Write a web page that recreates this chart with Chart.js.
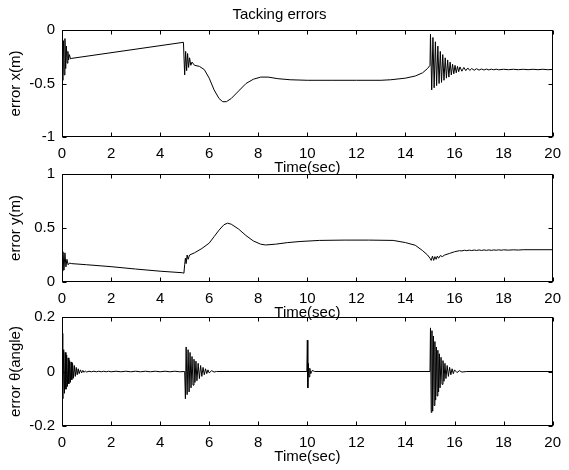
<!DOCTYPE html>
<html>
<head>
<meta charset="utf-8">
<script src="https://cdn.jsdelivr.net/npm/chart.js@4.4.1/dist/chart.umd.min.js"></script>
<style>
  html, body { margin: 0; padding: 0; background: #fff; }
  #wrap { position: relative; width: 569px; height: 470px; overflow: hidden; }
  canvas { position: absolute; left: 0; }
</style>
</head>
<body>
<div id="wrap">
  <canvas id="plotX" width="569" height="177" style="top:0px"></canvas>
  <canvas id="plotY" width="569" height="178" style="top:144px"></canvas>
  <canvas id="plotTh" width="569" height="179" style="top:287px"></canvas>
</div>
<script>
// [time (sec), error]
const errorX = [
  [0, -0.3], [0.03, -0.47], [0.06, -0.1], [0.09, -0.42], [0.12, -0.08], [0.15, -0.36], [0.18, -0.15],
  [0.21, -0.31], [0.24, -0.2], [0.27, -0.28], [0.3, -0.23], [0.35, -0.27], [0.4, -0.265],
  [4.95, -0.115], [5.0, -0.42], [5.04, -0.2], [5.08, -0.38], [5.12, -0.22], [5.16, -0.35], [5.2, -0.26],
  [5.25, -0.33], [5.3, -0.3], [5.4, -0.33], [5.6, -0.34], [5.8, -0.37], [6.0, -0.45], [6.2, -0.56],
  [6.4, -0.64], [6.55, -0.67], [6.7, -0.67], [6.9, -0.64], [7.2, -0.57], [7.5, -0.5], [7.8, -0.46],
  [8.1, -0.44], [8.4, -0.44], [8.8, -0.455], [9.3, -0.465], [10, -0.47], [11, -0.47], [12, -0.47],
  [13, -0.47], [13.4, -0.465], [14.0, -0.45], [14.4, -0.43], [14.7, -0.4], [14.9, -0.36], [15.0, -0.33],
  [15.02, -0.04], [15.07, -0.56], [15.12, -0.07], [15.17, -0.54], [15.22, -0.11], [15.27, -0.52],
  [15.32, -0.15], [15.37, -0.5], [15.42, -0.2], [15.47, -0.49], [15.52, -0.23], [15.57, -0.47],
  [15.62, -0.26], [15.67, -0.45], [15.72, -0.28], [15.77, -0.44], [15.82, -0.3], [15.87, -0.42],
  [15.92, -0.32], [15.97, -0.41], [16.02, -0.33], [16.07, -0.4], [16.12, -0.34], [16.17, -0.39],
  [16.22, -0.345], [16.3, -0.385], [16.38, -0.35], [16.46, -0.38], [16.54, -0.355], [16.62, -0.378],
  [16.7, -0.36], [16.8, -0.376], [16.9, -0.362], [17.0, -0.375], [17.1, -0.364], [17.2, -0.374],
  [17.3, -0.365], [17.4, -0.373], [17.5, -0.366], [17.6, -0.372], [17.7, -0.366], [17.8, -0.372],
  [18.0, -0.367], [18.2, -0.371], [18.4, -0.367], [18.6, -0.371], [18.8, -0.367], [19.0, -0.371],
  [19.2, -0.367], [19.4, -0.371], [19.6, -0.367], [19.8, -0.371], [20, -0.369]
];

const errorY = [
  [0, 0.1], [0.04, 0.28], [0.08, 0.11], [0.12, 0.27], [0.16, 0.14], [0.2, 0.21], [0.25, 0.16],
  [0.3, 0.175], [0.4, 0.17], [1, 0.16], [2, 0.142], [3, 0.12], [4, 0.1], [4.9, 0.086], [4.97, 0.082],
  [5.0, 0.16], [5.03, 0.22], [5.06, 0.17], [5.1, 0.25], [5.14, 0.21], [5.2, 0.25], [5.4, 0.27],
  [5.7, 0.31], [6.0, 0.36], [6.2, 0.42], [6.4, 0.48], [6.6, 0.53], [6.75, 0.545], [6.9, 0.535],
  [7.2, 0.49], [7.5, 0.43], [7.8, 0.38], [8.1, 0.35], [8.3, 0.343], [8.7, 0.35], [9.2, 0.365],
  [9.7, 0.375], [10.5, 0.385], [11.5, 0.388], [12.5, 0.388], [13.5, 0.385], [14.0, 0.365],
  [14.4, 0.34], [14.7, 0.29], [14.9, 0.25], [15.0, 0.22], [15.05, 0.2], [15.1, 0.24], [15.15, 0.2],
  [15.2, 0.235], [15.25, 0.21], [15.3, 0.24], [15.35, 0.22], [15.42, 0.245], [15.5, 0.235],
  [15.6, 0.25], [15.8, 0.265], [16.0, 0.28], [16.2, 0.29], [16.3, 0.288], [16.4, 0.294],
  [16.5, 0.29], [16.6, 0.295], [16.7, 0.291], [16.8, 0.296], [16.9, 0.292], [17.0, 0.297],
  [17.1, 0.292], [17.2, 0.297], [17.3, 0.293], [17.4, 0.297], [17.5, 0.293], [17.6, 0.297],
  [17.7, 0.294], [17.8, 0.298], [17.9, 0.294], [18.0, 0.298], [18.2, 0.295], [18.4, 0.298],
  [18.6, 0.296], [18.8, 0.299], [19.2, 0.299], [20, 0.299]
];

const errorTheta = [
  [0, 0], [0.02, 0.14], [0.04, -0.1], [0.07, 0.08], [0.1, -0.08], [0.13, 0.07], [0.16, -0.065],
  [0.19, 0.06], [0.22, -0.055], [0.25, 0.05], [0.28, -0.045], [0.31, 0.04], [0.34, -0.04],
  [0.37, 0.035], [0.4, -0.03], [0.43, 0.03], [0.46, -0.025], [0.5, 0.022], [0.54, -0.018],
  [0.58, 0.015], [0.62, -0.012], [0.66, 0.01], [0.7, -0.008], [0.75, 0.006], [0.8, -0.005],
  [0.85, 0.004], [0.9, -0.003], [0.95, 0.002], [1.0, -0.002], [1.1, 0.001], [1.2, -0.001],
  [1.3, 0.001], [1.4, -0.001], [1.5, 0.001], [1.6, -0.001], [1.7, 0.001], [1.8, -0.001],
  [1.9, 0.001], [2.0, -0.001], [2.2, 0.001], [2.4, -0.001], [2.6, 0.001], [2.8, -0.001],
  [3.0, 0.001], [3.2, -0.001], [3.4, 0.001], [3.6, -0.001], [3.8, 0.001], [4.0, -0.001],
  [4.2, 0.001], [4.4, -0.001], [4.6, 0.001], [4.8, -0.001], [5.0, 0],
  [5.03, -0.1], [5.06, 0.09], [5.1, -0.085], [5.14, 0.08], [5.18, -0.075], [5.22, 0.07],
  [5.26, -0.06], [5.3, 0.055], [5.34, -0.05], [5.38, 0.045], [5.42, -0.04], [5.46, 0.038],
  [5.5, -0.034], [5.55, 0.03], [5.6, -0.026], [5.65, 0.022], [5.7, -0.018], [5.75, 0.015],
  [5.8, -0.012], [5.85, 0.01], [5.9, -0.008], [5.95, 0.006], [6.0, -0.005], [6.1, 0.003],
  [6.2, -0.002], [6.3, 0], [9.98, 0], [10.0, 0.115], [10.02, -0.06], [10.04, 0.03], [10.07, -0.02],
  [10.1, 0.012], [10.14, -0.008], [10.2, 0.004], [10.3, 0], [15.0, 0],
  [15.02, 0.16], [15.05, -0.15], [15.08, 0.15], [15.11, -0.145], [15.14, 0.13], [15.17, -0.125],
  [15.2, 0.11], [15.23, -0.105], [15.26, 0.09], [15.29, -0.09], [15.32, 0.078], [15.35, -0.075],
  [15.38, 0.065], [15.41, -0.06], [15.45, 0.052], [15.49, -0.047], [15.53, 0.04], [15.57, -0.036],
  [15.61, 0.03], [15.65, -0.026], [15.7, 0.022], [15.75, -0.018], [15.8, 0.015], [15.85, -0.012],
  [15.9, 0.01], [15.95, -0.008], [16.0, 0.006], [16.1, -0.004], [16.2, 0.003], [16.3, -0.002],
  [16.5, 0], [20, 0]
];

const timeRange = [0, 20];
const timeStep = 2;

Chart.defaults.font.family = '"Liberation Sans", Arial, sans-serif';
Chart.defaults.font.size = 15;
Chart.defaults.color = '#000';

// matlab style box with inward ticks on all four sides
const boxPlugin = {
  id: 'box',
  afterDraw(chart) {
    const { ctx, chartArea: a, scales: { x, y } } = chart;
    const L = Math.round(a.left) + 0.5, R = Math.round(a.right) - 0.5;
    const T = Math.round(a.top) + 0.5, B = Math.round(a.bottom) - 0.5;
    ctx.save();
    ctx.strokeStyle = '#000';
    ctx.lineWidth = 1;
    ctx.strokeRect(L, T, R - L, B - T);
    ctx.beginPath();
    x.ticks.forEach(t => {
      const px = Math.round(x.getPixelForValue(t.value)) + 0.5;
      ctx.moveTo(px, B); ctx.lineTo(px, B - 4);
      ctx.moveTo(px, T); ctx.lineTo(px, T + 4);
    });
    y.ticks.forEach(t => {
      const py = Math.round(y.getPixelForValue(t.value)) + 0.5;
      ctx.moveTo(L, py); ctx.lineTo(L + 4, py);
      ctx.moveTo(R, py); ctx.lineTo(R - 4, py);
    });
    ctx.stroke();
    ctx.restore();
  }
};

function makePlot(id, points, yMin, yMax, yStep, yLabel, title) {
  new Chart(document.getElementById(id), {
    type: 'line',
    data: {
      datasets: [{
        data: points.map(([t, v]) => ({ x: t, y: v })),
        borderColor: '#000',
        borderWidth: 1,
        pointRadius: 0,
        tension: 0,
        fill: false
      }]
    },
    options: {
      responsive: false,
      animation: false,
      layout: { padding: { top: title ? 0 : 30, right: 10, left: 0, bottom: 0 } },
      plugins: {
        legend: { display: false },
        tooltip: { enabled: false },
        title: {
          display: !!title,
          text: title,
          color: '#000',
          font: { size: 15, weight: 'normal' },
          padding: { top: 6, bottom: 6 }
        }
      },
      scales: {
        x: {
          type: 'linear',
          min: timeRange[0],
          max: timeRange[1],
          grid: { display: false, drawTicks: false },
          border: { display: false },
          ticks: { stepSize: timeStep, padding: 8, maxRotation: 0, autoSkip: false },
          title: { display: true, text: 'Time(sec)', padding: 0 },
          afterFit(scale) { scale.height = 40; }
        },
        y: {
          min: yMin,
          max: yMax,
          grid: { display: false, drawTicks: false },
          border: { display: false },
          ticks: {
            stepSize: yStep,
            padding: 7,
            callback: v => String(Number(v.toFixed(3)))
          },
          title: { display: true, text: yLabel, padding: { top: 7, bottom: 0 } },
          afterFit(scale) { scale.width = 62; }
        }
      }
    },
    plugins: [boxPlugin]
  });
}

makePlot('plotX', errorX, -1, 0, 0.5, 'error x(m)', 'Tacking errors');
makePlot('plotY', errorY, 0, 1, 0.5, 'error y(m)');
makePlot('plotTh', errorTheta, -0.2, 0.2, 0.2, 'error θ(angle)');
</script>
</body>
</html>
